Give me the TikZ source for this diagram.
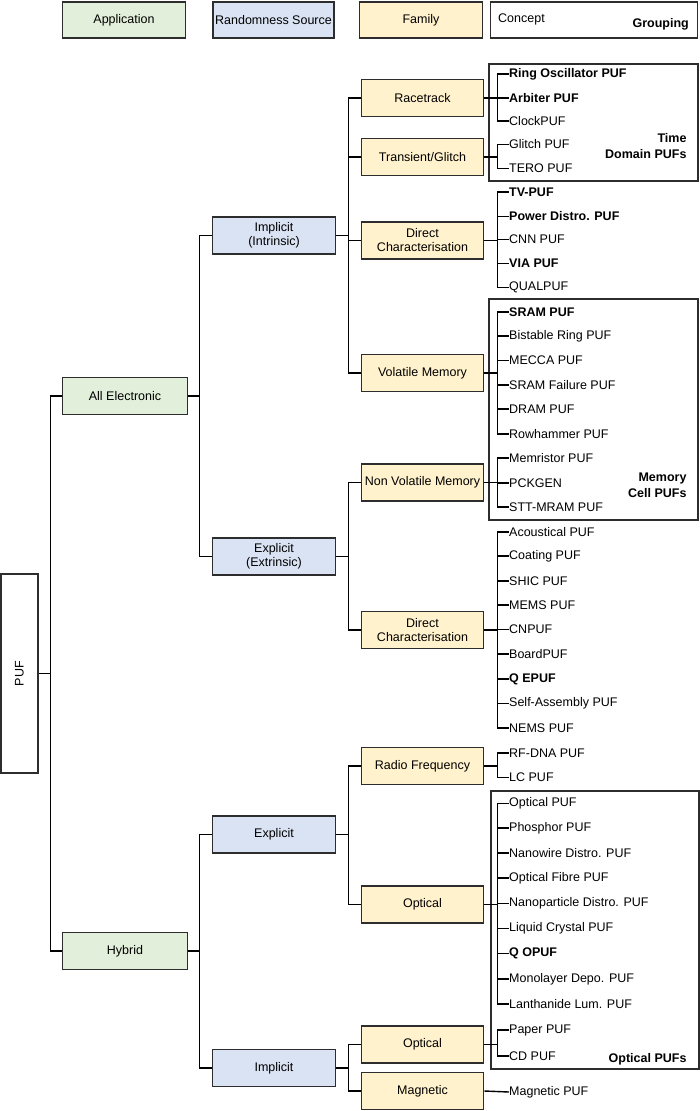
\documentclass[tikz,border=0pt]{standalone}
\usepackage{fontspec}
\setmainfont{Liberation Sans}
\definecolor{appfill}{RGB}{226,239,218}
\definecolor{srcfill}{RGB}{218,227,243}
\definecolor{famfill}{RGB}{255,242,204}
\definecolor{edgecol}{RGB}{45,45,45}
\newcommand\myfont{\fontsize{12.5}{14}\selectfont}
\tikzset{
  every node/.style={font=\myfont},
  boxbase/.style={draw=edgecol, line width=1.6pt, align=center, inner sep=1pt},
  app/.style={boxbase, fill=appfill, minimum width=125pt, minimum height=37pt},
  src/.style={boxbase, fill=srcfill, minimum width=123pt, minimum height=37pt},
  fam/.style={boxbase, fill=famfill, minimum width=122pt, minimum height=37pt},
  leaf/.style={anchor=west, inner sep=0pt},
  bleaf/.style={leaf, font=\myfont\bfseries},
  grp/.style={draw=edgecol, line width=1.3pt},
  grplabel/.style={anchor=base east, align=right, font=\fontsize{12.5}{16}\selectfont\bfseries},
  wire/.style={line width=1.4pt, draw=black},
}
\begin{document}
\begin{tikzpicture}[x=1pt, y=-1pt]
\useasboundingbox (0,0) rectangle (700,1111);
% legend
\node[app, minimum width=123pt, minimum height=36pt] (lapp) at (124,20) {Application};
\node[src, minimum width=121pt, minimum height=36pt] (lsrc) at (273.5,20) {Randomness Source};
\node[fam, minimum width=123pt, minimum height=36pt] (lfam) at (421,20) {Family};
\node[draw=edgecol, line width=1.6pt, minimum width=207pt, minimum height=36pt] (lcon) at (594,20) {};
\node[leaf] (lconcept) at (498,19) {Concept};
\node[anchor=east, inner sep=0pt, font=\myfont\bfseries] (lgroup) at (689,24) {Grouping};

% group boxes
\node[grp, minimum width=209pt, minimum height=117pt, inner sep=0pt] (gtime) at (593.5,122.5) {};
\node[grp, minimum width=209pt, minimum height=221pt, inner sep=0pt] (gmem) at (593.5,409.5) {};
\node[grp, minimum width=208pt, minimum height=278pt, inner sep=0pt] (gopt) at (595,930) {};
\node[grplabel] (ltime) at (690,158.5) {Time\\Domain PUFs};
\node[grplabel] (lmem) at (690,497.5) {Memory\\Cell PUFs};
\node[grplabel] (lopt) at (690,1062.5) {Optical PUFs};

% root
\node[draw=edgecol, line width=1.3pt, minimum width=37pt, minimum height=199pt, inner sep=0pt] (puf) at (19.5,673.5) {};
\node[rotate=90] (puflabel) at (puf.center) {PUF};

% applications
\node[app] (allel) at (125,396) {All Electronic};
\node[app] (hybrid) at (125,951) {Hybrid};

% randomness sources
\node[src] (implI) at (274,235.5) {Implicit\\(Intrinsic)};
\node[src] (explE) at (274,556.5) {Explicit\\(Extrinsic)};
\node[src] (explH) at (274,834.5) {Explicit};
\node[src] (implH) at (274,1068) {Implicit};

% families
\node[fam] (race) at (422.5,98) {Racetrack};
\node[fam] (trans) at (422.5,157) {Transient/Glitch};
\node[fam] (dc1) at (422.5,240.5) {Direct\\Characterisation};
\node[fam] (vol) at (422.5,373) {Volatile Memory};
\node[fam] (nvol) at (422.5,482.5) {Non Volatile Memory};
\node[fam] (dc2) at (422.5,630) {Direct\\Characterisation};
\node[fam] (rf) at (422.5,766) {Radio Frequency};
\node[fam] (opt1) at (422.5,904.5) {Optical};
\node[fam] (opt2) at (422.5,1044.5) {Optical};
\node[fam] (mag) at (422.5,1091) {Magnetic};

% leaves
\node[bleaf] (ro) at (509,74) {Ring Oscillator PUF};
\node[bleaf] (arb) at (509,98) {Arbiter PUF};
\node[leaf] (clk) at (509,121) {ClockPUF};
\node[leaf] (gli) at (509,144.5) {Glitch PUF};
\node[leaf] (tero) at (509,168.5) {TERO PUF};
\node[bleaf] (tv) at (509,192) {TV-PUF};
\node[bleaf] (pd) at (509,216.5) {Power Distro. PUF};
\node[leaf] (cnn) at (509,239.5) {CNN PUF};
\node[bleaf] (via) at (509,263.5) {VIA PUF};
\node[leaf] (qual) at (509,287.5) {QUALPUF};
\node[bleaf] (sram) at (509,312) {SRAM PUF};
\node[leaf] (bsr) at (509,336) {Bistable Ring PUF};
\node[leaf] (mecca) at (509,360.5) {MECCA PUF};
\node[leaf] (sramf) at (509,385) {SRAM Failure PUF};
\node[leaf] (dram) at (509,409) {DRAM PUF};
\node[leaf] (rowh) at (509,434) {Rowhammer PUF};
\node[leaf] (memr) at (509,458) {Memristor PUF};
\node[leaf] (pck) at (509,483) {PCKGEN};
\node[leaf] (stt) at (509,507) {STT-MRAM PUF};
\node[leaf] (acou) at (509,532) {Acoustical PUF};
\node[leaf] (coat) at (509,556) {Coating PUF};
\node[leaf] (shic) at (509,581) {SHIC PUF};
\node[leaf] (mems) at (509,605) {MEMS PUF};
\node[leaf] (cnp) at (509,629.5) {CNPUF};
\node[leaf] (board) at (509,654) {BoardPUF};
\node[bleaf] (qe) at (509,679) {Q EPUF};
\node[leaf] (self) at (509,703.5) {Self-Assembly PUF};
\node[leaf] (nems) at (509,728) {NEMS PUF};
\node[leaf] (rfdna) at (509,753) {RF-DNA PUF};
\node[leaf] (lc) at (509,777.5) {LC PUF};
\node[leaf] (optp) at (509,803.5) {Optical PUF};
\node[leaf] (phos) at (509,828) {Phosphor PUF};
\node[leaf] (nanow) at (509,853) {Nanowire Distro. PUF};
\node[leaf] (fibre) at (509,878) {Optical Fibre PUF};
\node[leaf] (nanop) at (509,903.5) {Nanoparticle Distro. PUF};
\node[leaf] (lcp) at (509,928.5) {Liquid Crystal PUF};
\node[bleaf] (qo) at (509,953.5) {Q OPUF};
\node[leaf] (mono) at (509,979) {Monolayer Depo. PUF};
\node[leaf] (lanth) at (509,1004) {Lanthanide Lum. PUF};
\node[leaf] (paper) at (509,1030) {Paper PUF};
\node[leaf] (cd) at (509,1056) {CD PUF};
\node[leaf] (magp) at (509,1092) {Magnetic PUF};

% connectors
\foreach \c in {allel,hybrid} \draw[wire] (puf.east) -- ++(12,0) |- (\c.west);
\foreach \c in {implI,explE} \draw[wire] (allel.east) -- ++(11,0) |- (\c.west);
\foreach \c in {explH,implH} \draw[wire] (hybrid.east) -- ++(11,0) |- (\c.west);
\foreach \c in {race,trans,dc1,vol} \draw[wire] (implI.east) -- ++(12,0) |- (\c.west);
\foreach \c in {nvol,dc2} \draw[wire] (explE.east) -- ++(12,0) |- (\c.west);
\foreach \c in {rf,opt1} \draw[wire] (explH.east) -- ++(12,0) |- (\c.west);
\foreach \c in {opt2,mag} \draw[wire] (implH.east) -- ++(12,0) |- (\c.west);
\foreach \c in {ro,arb,clk} \draw[wire] (race.east) -- ++(13,0) |- (\c.west);
\foreach \c in {gli,tero} \draw[wire] (trans.east) -- ++(13,0) |- (\c.west);
\foreach \c in {tv,pd,cnn,via,qual} \draw[wire] (dc1.east) -- ++(13,0) |- (\c.west);
\foreach \c in {sram,bsr,mecca,sramf,dram,rowh} \draw[wire] (vol.east) -- ++(13,0) |- (\c.west);
\foreach \c in {memr,pck,stt} \draw[wire] (nvol.east) -- ++(13,0) |- (\c.west);
\foreach \c in {acou,coat,shic,mems,cnp,board,qe,self,nems} \draw[wire] (dc2.east) -- ++(13,0) |- (\c.west);
\foreach \c in {rfdna,lc} \draw[wire] (rf.east) -- ++(13,0) |- (\c.west);
\foreach \c in {optp,phos,nanow,fibre,nanop,lcp,qo,mono,lanth} \draw[wire] (opt1.east) -- ++(13,0) |- (\c.west);
\foreach \c in {paper,cd} \draw[wire] (opt2.east) -- ++(13,0) |- (\c.west);
\draw[wire] (mag.east) -- (magp.west);
\end{tikzpicture}
\end{document}
